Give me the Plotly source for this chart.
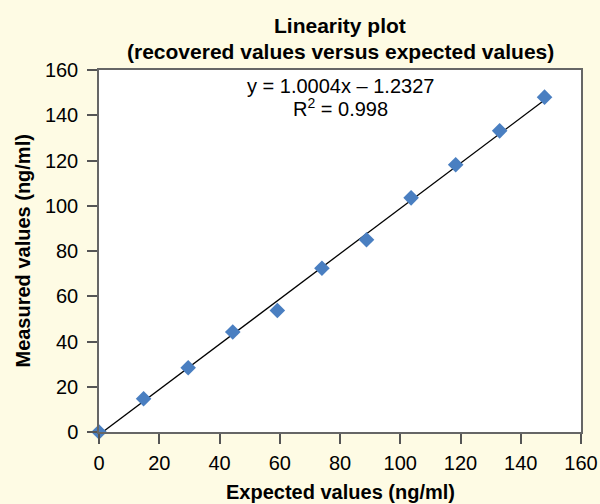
import plotly.graph_objects as go

expected = [0, 14.8, 29.6, 44.4, 59.2, 74.0, 88.8, 103.6, 118.4, 133.0, 147.9]
measured = [0, 14.7, 28.4, 44.2, 53.7, 72.4, 85.0, 103.5, 118.1, 133.1, 148.0]
slope = 1.0004
intercept = -1.2327
ticks = [0, 20, 40, 60, 80, 100, 120, 140, 160]

fit_x = [0, max(expected)]
fit_y = [slope * v + intercept for v in fit_x]

FONT = "Liberation Sans, Arial, Helvetica, sans-serif"
L, R, T, B = 98.5, 19.3, 70, 71.7
PH = 504 - T - B
PW = 600 - L - R


def py(p):
    return (504 - B - p) / PH


def px(p):
    return (p - L) / PW


fig = go.Figure()
fig.add_trace(go.Scatter(x=fit_x, y=fit_y, mode="lines",
                         line=dict(color="black", width=1.3), showlegend=False,
                         cliponaxis=False))
fig.add_trace(go.Scatter(x=expected, y=measured, mode="markers",
                         marker=dict(symbol="diamond", size=12, color="#4a7fc1"),
                         showlegend=False, cliponaxis=False))

fig.add_annotation(x=0.5, y=py(86), xref="paper", yref="paper", yanchor="middle",
                   text="y = 1.0004x \u2013 1.2327", showarrow=False,
                   font=dict(family=FONT, size=20, color="black"))
fig.add_annotation(x=0.5, y=py(108), xref="paper", yref="paper", yanchor="middle",
                   text="R<sup>2</sup> = 0.998", showarrow=False,
                   font=dict(family=FONT, size=20, color="black"))

# titles
fig.add_annotation(x=0.5, y=py(25), xref="paper", yref="paper", yanchor="middle",
                   text="<b>Linearity plot</b>", showarrow=False,
                   font=dict(family=FONT, size=21, color="black"))
fig.add_annotation(x=0.5, y=py(51), xref="paper", yref="paper", yanchor="middle",
                   text="<b>(recovered values versus expected values)</b>", showarrow=False,
                   font=dict(family=FONT, size=21, color="black"))
fig.add_annotation(x=0.5, y=py(492), xref="paper", yref="paper", yanchor="middle",
                   text="<b>Expected values (ng/ml)</b>", showarrow=False,
                   font=dict(family=FONT, size=20, color="black"))
fig.add_annotation(x=px(22), y=0.5, xref="paper", yref="paper", xanchor="center",
                   yanchor="middle", textangle=-90,
                   text="<b>Measured values (ng/ml)</b>", showarrow=False,
                   font=dict(family=FONT, size=20, color="black"))

fig.update_layout(
    width=600, height=504,
    margin=dict(l=L, r=R, t=T, b=B, autoexpand=False),
    paper_bgcolor="#fefbe4", plot_bgcolor="white",
    font=dict(family=FONT, size=20, color="black"),
)
axis_common = dict(
    tickvals=ticks, ticktext=[str(t) for t in ticks], automargin=False,
    showgrid=False, zeroline=False, showline=True, linecolor="#666666", linewidth=1.5,
    mirror=True, ticks="outside", ticklen=10, tickwidth=1.5, tickcolor="#555555",
    tickfont=dict(family=FONT, size=20, color="black"),
)
fig.update_xaxes(range=[0, 160], ticklabelstandoff=2, **axis_common)
fig.update_yaxes(range=[0, 160], ticklabelstandoff=5, **axis_common)

fig.write_html("out.html")
